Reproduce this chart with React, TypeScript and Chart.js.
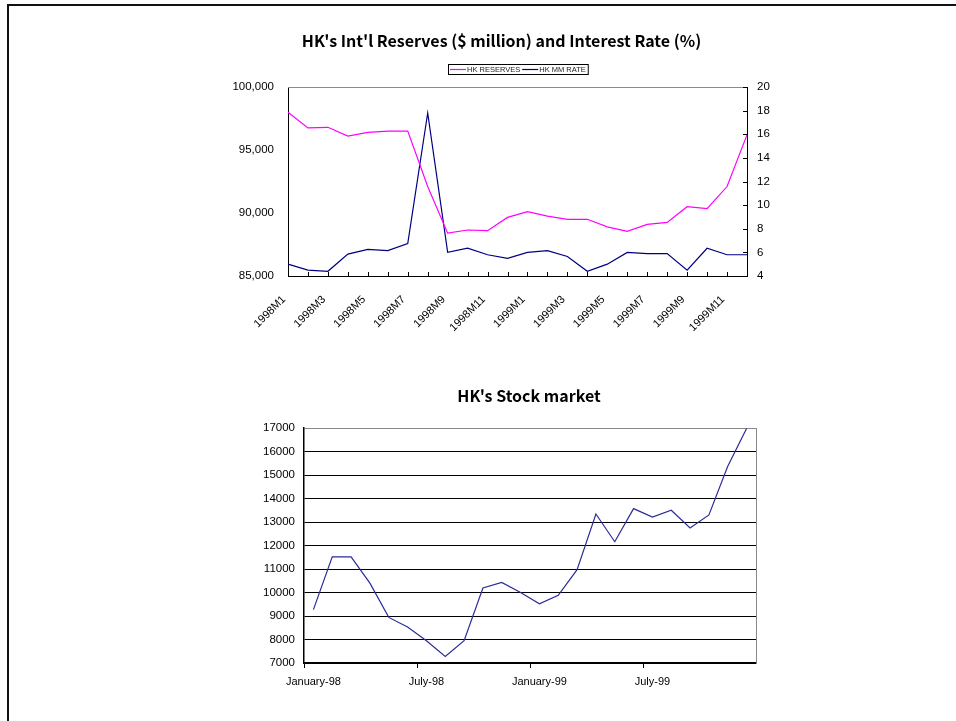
import React, { useEffect, useRef } from "react";
import { Chart, registerables } from "chart.js";

Chart.register(...registerables);

// Monthly categories for the reserves / interest-rate chart
const months = [
  "1998M1", "1998M2", "1998M3", "1998M4", "1998M5", "1998M6",
  "1998M7", "1998M8", "1998M9", "1998M10", "1998M11", "1998M12",
  "1999M1", "1999M2", "1999M3", "1999M4", "1999M5", "1999M6",
  "1999M7", "1999M8", "1999M9", "1999M10", "1999M11", "1999M12",
];

// HK international reserves, $ million
const reserves = [
  98000, 96750, 96800, 96100, 96400, 96500, 96500, 92100, 88400, 88650, 88600, 89650,
  90100, 89750, 89500, 89500, 88900, 88550, 89100, 89250, 90500, 90350, 92100, 96200,
];

// HK money-market rate, %
const mmRate = [
  5.0, 4.5, 4.4, 5.85, 6.25, 6.15, 6.75, 17.8, 6.0, 6.35, 5.8, 5.5,
  6.0, 6.15, 5.65, 4.4, 5.0, 6.0, 5.9, 5.9, 4.5, 6.35, 5.8, 5.8,
];

// Monthly categories for the stock market chart
const stockMonths = [
  "January-98", "February-98", "March-98", "April-98", "May-98", "June-98",
  "July-98", "August-98", "September-98", "October-98", "November-98", "December-98",
  "January-99", "February-99", "March-99", "April-99", "May-99", "June-99",
  "July-99", "August-99", "September-99", "October-99", "November-99", "December-99",
];

// Hang Seng index level
const hangSeng = [
  9270, 11520, 11520, 10400, 8940, 8530, 7950, 7280, 7950, 10190, 10430, 10000,
  9520, 9880, 10970, 13340, 12160, 13570, 13210, 13500, 12750, 13300, 15370, 16980,
];

const reservesTitle = "HK's Int'l Reserves ($ million) and Interest Rate (%)";
const stockTitle = "HK's Stock market";

const TICK_FONT = { family: "'Liberation Sans', Arial, sans-serif", size: 11.5 };
const TITLE_FONT = "bold 16px 'Noto Sans CJK JP', sans-serif";

function crisp(v: number) {
  return Math.round(v) + 0.5;
}

const reservesDecor = {
  id: "reservesDecor",
  afterDraw(chart: any) {
    const { ctx, chartArea, scales } = chart;
    const { left, right, top, bottom } = chartArea;
    ctx.save();

    // grey top edge of the plot frame
    ctx.strokeStyle = "#8a8a8a";
    ctx.lineWidth = 1;
    ctx.beginPath();
    ctx.moveTo(left, crisp(top));
    ctx.lineTo(right, crisp(top));
    ctx.stroke();

    // inward tick marks on the category axis
    ctx.strokeStyle = "#000";
    const xs = scales.x;
    ctx.beginPath();
    for (let i = 0; i < xs.ticks.length; i++) {
      const px = crisp(xs.getPixelForTick(i));
      ctx.moveTo(px, bottom);
      ctx.lineTo(px, bottom - 4);
    }
    ctx.stroke();

    // inward tick marks on the right-hand rate axis
    const yr = scales.y1;
    ctx.beginPath();
    for (let i = 0; i < yr.ticks.length; i++) {
      const py = crisp(yr.getPixelForTick(i));
      ctx.moveTo(right - 4, py);
      ctx.lineTo(right, py);
    }
    ctx.stroke();

    // title
    ctx.fillStyle = "#000";
    ctx.font = TITLE_FONT;
    ctx.textAlign = "center";
    ctx.textBaseline = "middle";
    ctx.fillText(reservesTitle, 501.5, 41);

    // boxed legend
    ctx.font = "7.5px 'Liberation Sans', Arial, sans-serif";
    const items = chart.data.datasets.map((d: any) => ({
      label: d.label,
      color: d.borderColor,
      w: ctx.measureText(d.label).width,
    }));
    const lineLen = 16;
    let total = 2;
    items.forEach((it: any) => (total += lineLen + 1 + it.w + 2));
    const boxLeft = Math.round((left + right) / 2 - total / 2);
    const boxTop = 64;
    const boxH = 11;
    const midY = boxTop + boxH / 2;
    ctx.strokeStyle = "#000";
    ctx.lineWidth = 1;
    ctx.strokeRect(boxLeft + 0.5, boxTop + 0.5, total, boxH - 1);
    let cx = boxLeft + 2;
    ctx.textAlign = "left";
    items.forEach((it: any) => {
      ctx.strokeStyle = it.color;
      ctx.lineWidth = 1.2;
      ctx.beginPath();
      ctx.moveTo(cx, midY);
      ctx.lineTo(cx + lineLen, midY);
      ctx.stroke();
      cx += lineLen + 1;
      ctx.fillStyle = "#222";
      ctx.fillText(it.label, cx, midY + 0.5);
      cx += it.w + 2;
    });
    ctx.restore();
  },
};

const stockDecor = {
  id: "stockDecor",
  afterDraw(chart: any) {
    const { ctx, chartArea } = chart;
    const { right, top, bottom } = chartArea;
    ctx.save();
    ctx.strokeStyle = "#8a8a8a";
    ctx.lineWidth = 1;
    ctx.beginPath();
    ctx.moveTo(crisp(right), top);
    ctx.lineTo(crisp(right), bottom);
    ctx.stroke();

    ctx.fillStyle = "#000";
    ctx.font = TITLE_FONT;
    ctx.textAlign = "center";
    ctx.textBaseline = "middle";
    ctx.fillText(stockTitle, 529, 26);
    ctx.restore();
  },
};

function ReservesChart() {
  const ref = useRef<HTMLCanvasElement | null>(null);
  useEffect(() => {
    if (!ref.current) return;
    const chart = new Chart(ref.current, {
      type: "line",
      data: {
        labels: months,
        datasets: [
          {
            label: "HK RESERVES",
            data: reserves,
            yAxisID: "y",
            borderColor: "#ff00ff",
            borderWidth: 1.2,
            pointRadius: 0,
            tension: 0,
            fill: false,
          },
          {
            label: "HK MM RATE",
            data: mmRate,
            yAxisID: "y1",
            borderColor: "#000080",
            borderWidth: 1.2,
            pointRadius: 0,
            tension: 0,
            fill: false,
          },
        ],
      },
      options: {
        responsive: false,
        animation: false,
        devicePixelRatio: 1,
        layout: { padding: { top: 87, left: 0, right: 0, bottom: 0 } },
        plugins: {
          legend: { display: false },
          title: { display: false },
          tooltip: { enabled: false },
        },
        scales: {
          x: {
            type: "category",
            offset: false,
            grid: { display: true, drawOnChartArea: false, drawTicks: false, color: "transparent" },
            border: { display: true, color: "#000", width: 1 },
            ticks: {
              autoSkip: false,
              minRotation: 45,
              maxRotation: 45,
              padding: 17,
              labelOffset: -4,
              color: "#000",
              font: { ...TICK_FONT, size: 11 },
              callback: (_v: any, i: number) => (i % 2 === 0 ? months[i] : ""),
            },
            afterFit: (s: any) => {
              s.height = 94;
            },
          },
          y: {
            position: "left",
            min: 85000,
            max: 100000,
            grid: { display: true, drawOnChartArea: false, drawTicks: false, color: "transparent" },
            border: { display: true, color: "#000", width: 1 },
            ticks: { stepSize: 5000, padding: 14, color: "#000", font: TICK_FONT },
            afterFit: (s: any) => {
              s.width = 288;
            },
          },
          y1: {
            position: "right",
            min: 4,
            max: 20,
            grid: { display: true, drawOnChartArea: false, drawTicks: false, color: "transparent" },
            border: { display: true, color: "#000", width: 1 },
            ticks: { stepSize: 2, padding: 10, color: "#000", font: TICK_FONT },
            afterFit: (s: any) => {
              s.width = 209;
            },
          },
        },
      } as any,
      plugins: [reservesDecor],
    });
    return () => chart.destroy();
  }, []);
  return (
    <canvas
      ref={ref}
      width={956}
      height={370}
      style={{ position: "absolute", left: 0, top: 0, width: 956, height: 370 }}
    />
  );
}

function StockChart() {
  const ref = useRef<HTMLCanvasElement | null>(null);
  useEffect(() => {
    if (!ref.current) return;
    const chart = new Chart(ref.current, {
      type: "line",
      data: {
        labels: stockMonths,
        datasets: [
          {
            label: "Hang Seng",
            data: hangSeng,
            borderColor: "#2b2b9a",
            borderWidth: 1.2,
            pointRadius: 0,
            tension: 0,
            fill: false,
          },
        ],
      },
      options: {
        responsive: false,
        animation: false,
        devicePixelRatio: 1,
        layout: { padding: { top: 58, left: 0, right: 200, bottom: 0 } },
        plugins: {
          legend: { display: false },
          title: { display: false },
          tooltip: { enabled: false },
        },
        scales: {
          x: {
            type: "category",
            offset: true,
            grid: {
              offset: true,
              drawOnChartArea: false,
              drawTicks: true,
              tickLength: 5,
              color: (c: any) => (c.index % 6 === 0 ? "#000" : "transparent"),
            },
            border: { display: true, color: "#000", width: 1.5 },
            ticks: {
              autoSkip: false,
              maxRotation: 0,
              minRotation: 0,
              padding: 7,
              color: "#000",
              font: { ...TICK_FONT, size: 11 },
              callback: (_v: any, i: number) => (i % 6 === 0 ? stockMonths[i] : ""),
            },
            afterFit: (s: any) => {
              s.height = 58;
            },
          },
          y: {
            min: 7000,
            max: 17000,
            grid: {
              drawTicks: false,
              lineWidth: 1,
              color: (c: any) => (c.tick && c.tick.value === 17000 ? "#8a8a8a" : "#000"),
            },
            border: { display: true, color: "#000", width: 1.5 },
            ticks: {
              stepSize: 1000,
              padding: 9,
              color: "#000",
              font: TICK_FONT,
              callback: (v: any) => String(v),
            },
            afterFit: (s: any) => {
              s.width = 304;
            },
          },
        },
      } as any,
      plugins: [stockDecor],
    });
    return () => chart.destroy();
  }, []);
  return (
    <canvas
      ref={ref}
      width={956}
      height={351}
      style={{ position: "absolute", left: 0, top: 370, width: 956, height: 351 }}
    />
  );
}

export default function App() {
  return (
    <div
      style={{
        position: "fixed",
        left: 0,
        top: 0,
        width: 956,
        height: 721,
        overflow: "hidden",
        background: "#fff",
      }}
    >
      <div
        style={{
          position: "absolute",
          left: 7,
          top: 4,
          width: 1200,
          height: 1200,
          border: "2px solid #111",
        }}
      />
      <ReservesChart />
      <StockChart />
    </div>
  );
}
